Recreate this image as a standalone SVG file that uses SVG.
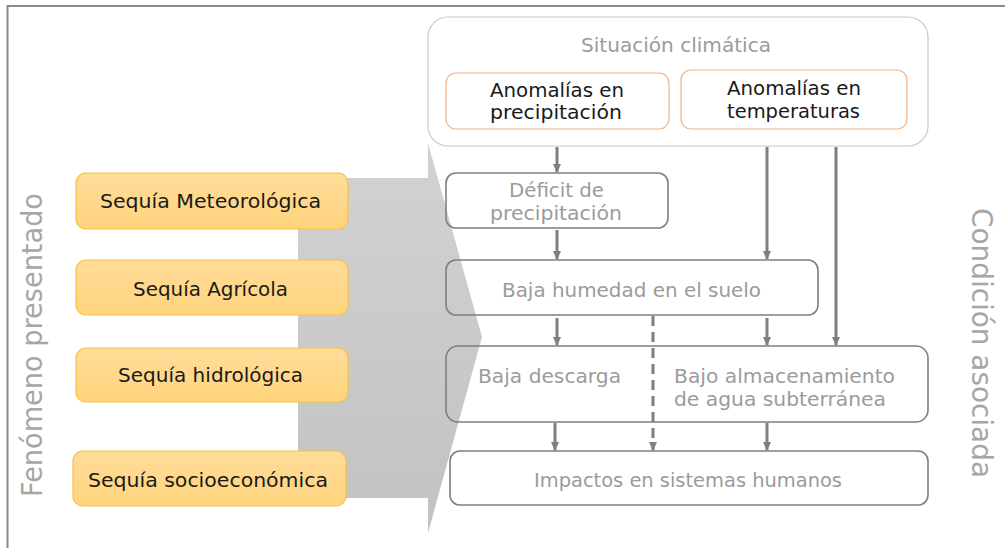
<svg xmlns="http://www.w3.org/2000/svg" width="1005" height="548" viewBox="0 0 1005 548">
<style>
text{font-family:"DejaVu Sans","Liberation Sans",sans-serif;}
.lbl{font-size:20px;fill:#1a1a1a;}
.gl{font-size:20px;fill:#9b9b9b;}
.side{font-size:28px;fill:#a6a6a6;}
.ybox{fill:url(#yg);stroke:#f6c244;stroke-width:1.2;}
.obox{fill:#fff;stroke:#f4b183;stroke-width:1.2;}
.gbox{fill:none;stroke:#7f7f7f;stroke-width:1.6;}
.conn{stroke:#7f7f7f;stroke-width:3;fill:none;marker-end:url(#ah);}
.dash{stroke-dasharray:10 6;}
</style>
<defs>
<linearGradient id="yg" x1="0" y1="0" x2="0" y2="1">
<stop offset="0" stop-color="#ffdc9a"/>
<stop offset="1" stop-color="#ffd47c"/>
</linearGradient>
<linearGradient id="ag" x1="0" y1="0" x2="0" y2="1">
<stop offset="0" stop-color="#d2d2d2"/>
<stop offset="1" stop-color="#c2c2c2"/>
</linearGradient>
<marker id="ah" markerWidth="9" markerHeight="9" refX="8" refY="4.5" orient="auto" markerUnits="userSpaceOnUse" viewBox="0 0 9 9">
<path d="M0,0.5 L9,4.5 L0,8.5 Z" fill="#7f7f7f"/>
</marker>
</defs>
<rect x="7.5" y="6" width="1010" height="560" fill="none" stroke="#8a8a8a" stroke-width="2"/>
<g id="big-arrow">
<path d="M298,178 L428,178 L428,143 L482,337 L428,533 L428,498 L298,498 Z" fill="url(#ag)"/>
</g>
<g id="side-left"><text class="side" transform="translate(42,497) rotate(-90)" textLength="304" lengthAdjust="spacingAndGlyphs">Fenómeno presentado</text></g>
<g id="side-right"><text class="side" transform="translate(972,208) rotate(90)" textLength="270" lengthAdjust="spacingAndGlyphs">Condición asociada</text></g>
<g id="sequia-meteorologica"><rect class="ybox" x="76" y="173" width="272" height="56" rx="10"/><text class="lbl" x="100" y="208" textLength="221" lengthAdjust="spacingAndGlyphs">Sequía Meteorológica</text></g>
<g id="sequia-agricola"><rect class="ybox" x="76" y="260" width="272" height="55" rx="10"/><text class="lbl" x="133" y="296" textLength="155" lengthAdjust="spacingAndGlyphs">Sequía Agrícola</text></g>
<g id="sequia-hidrologica"><rect class="ybox" x="76" y="348" width="272" height="54" rx="10"/><text class="lbl" x="118" y="382" textLength="185" lengthAdjust="spacingAndGlyphs">Sequía hidrológica</text></g>
<g id="sequia-socioeconomica"><rect class="ybox" x="73" y="451" width="273" height="55" rx="10"/><text class="lbl" x="88" y="487" textLength="240" lengthAdjust="spacingAndGlyphs">Sequía socioeconómica</text></g>
<g id="situacion-climatica"><rect x="428" y="17" width="500" height="129" rx="20" fill="#fff" stroke="#c8c8c8" stroke-width="1.2"/><text class="gl" x="581" y="52" textLength="190" lengthAdjust="spacingAndGlyphs" fill="#8f8f8f">Situación climática</text></g>
<g id="anomalias-precipitacion"><rect class="obox" x="446" y="73" width="223" height="56" rx="10"/><text class="lbl" x="490" y="97" textLength="134" lengthAdjust="spacingAndGlyphs">Anomalías en</text><text class="lbl" x="490" y="119" textLength="132" lengthAdjust="spacingAndGlyphs">precipitación</text></g>
<g id="anomalias-temperaturas"><rect class="obox" x="681" y="70" width="226" height="59" rx="10"/><text class="lbl" x="727" y="95" textLength="134" lengthAdjust="spacingAndGlyphs">Anomalías en</text><text class="lbl" x="727" y="118" textLength="133" lengthAdjust="spacingAndGlyphs">temperaturas</text></g>
<g id="deficit-precipitacion"><rect class="gbox" x="446" y="173" width="222" height="55" rx="10"/><text class="gl" x="509" y="197" textLength="95" lengthAdjust="spacingAndGlyphs">Déficit de</text><text class="gl" x="490" y="220" textLength="132" lengthAdjust="spacingAndGlyphs">precipitación</text></g>
<g id="baja-humedad"><rect class="gbox" x="446" y="260" width="372" height="55" rx="10"/><text class="gl" x="502" y="297" textLength="259" lengthAdjust="spacingAndGlyphs">Baja humedad en el suelo</text></g>
<g id="baja-descarga-almacenamiento"><rect class="gbox" x="446" y="346" width="482" height="76" rx="12"/><text class="gl" x="478" y="383" textLength="143" lengthAdjust="spacingAndGlyphs">Baja descarga</text><text class="gl" x="674" y="383" textLength="221" lengthAdjust="spacingAndGlyphs">Bajo almacenamiento</text><text class="gl" x="674" y="406" textLength="212" lengthAdjust="spacingAndGlyphs">de agua subterránea</text></g>
<g id="impactos"><rect class="gbox" x="450" y="451" width="478" height="54" rx="10"/><text class="gl" x="534" y="487" textLength="308" lengthAdjust="spacingAndGlyphs">Impactos en sistemas humanos</text></g>
<g id="connectors">
<line class="conn" x1="557" y1="147" x2="557" y2="172"/>
<line class="conn" x1="557" y1="230" x2="557" y2="259"/>
<line class="conn" x1="767" y1="147" x2="767" y2="259"/>
<line class="conn" x1="836" y1="147" x2="836" y2="345"/>
<line class="conn" x1="557" y1="318" x2="557" y2="345"/>
<line class="conn" x1="767" y1="318" x2="767" y2="345"/>
<line class="conn dash" x1="653" y1="316" x2="653" y2="450"/>
<line class="conn" x1="555" y1="423" x2="555" y2="450"/>
<line class="conn" x1="767" y1="423" x2="767" y2="450"/>
</g>
</svg>
